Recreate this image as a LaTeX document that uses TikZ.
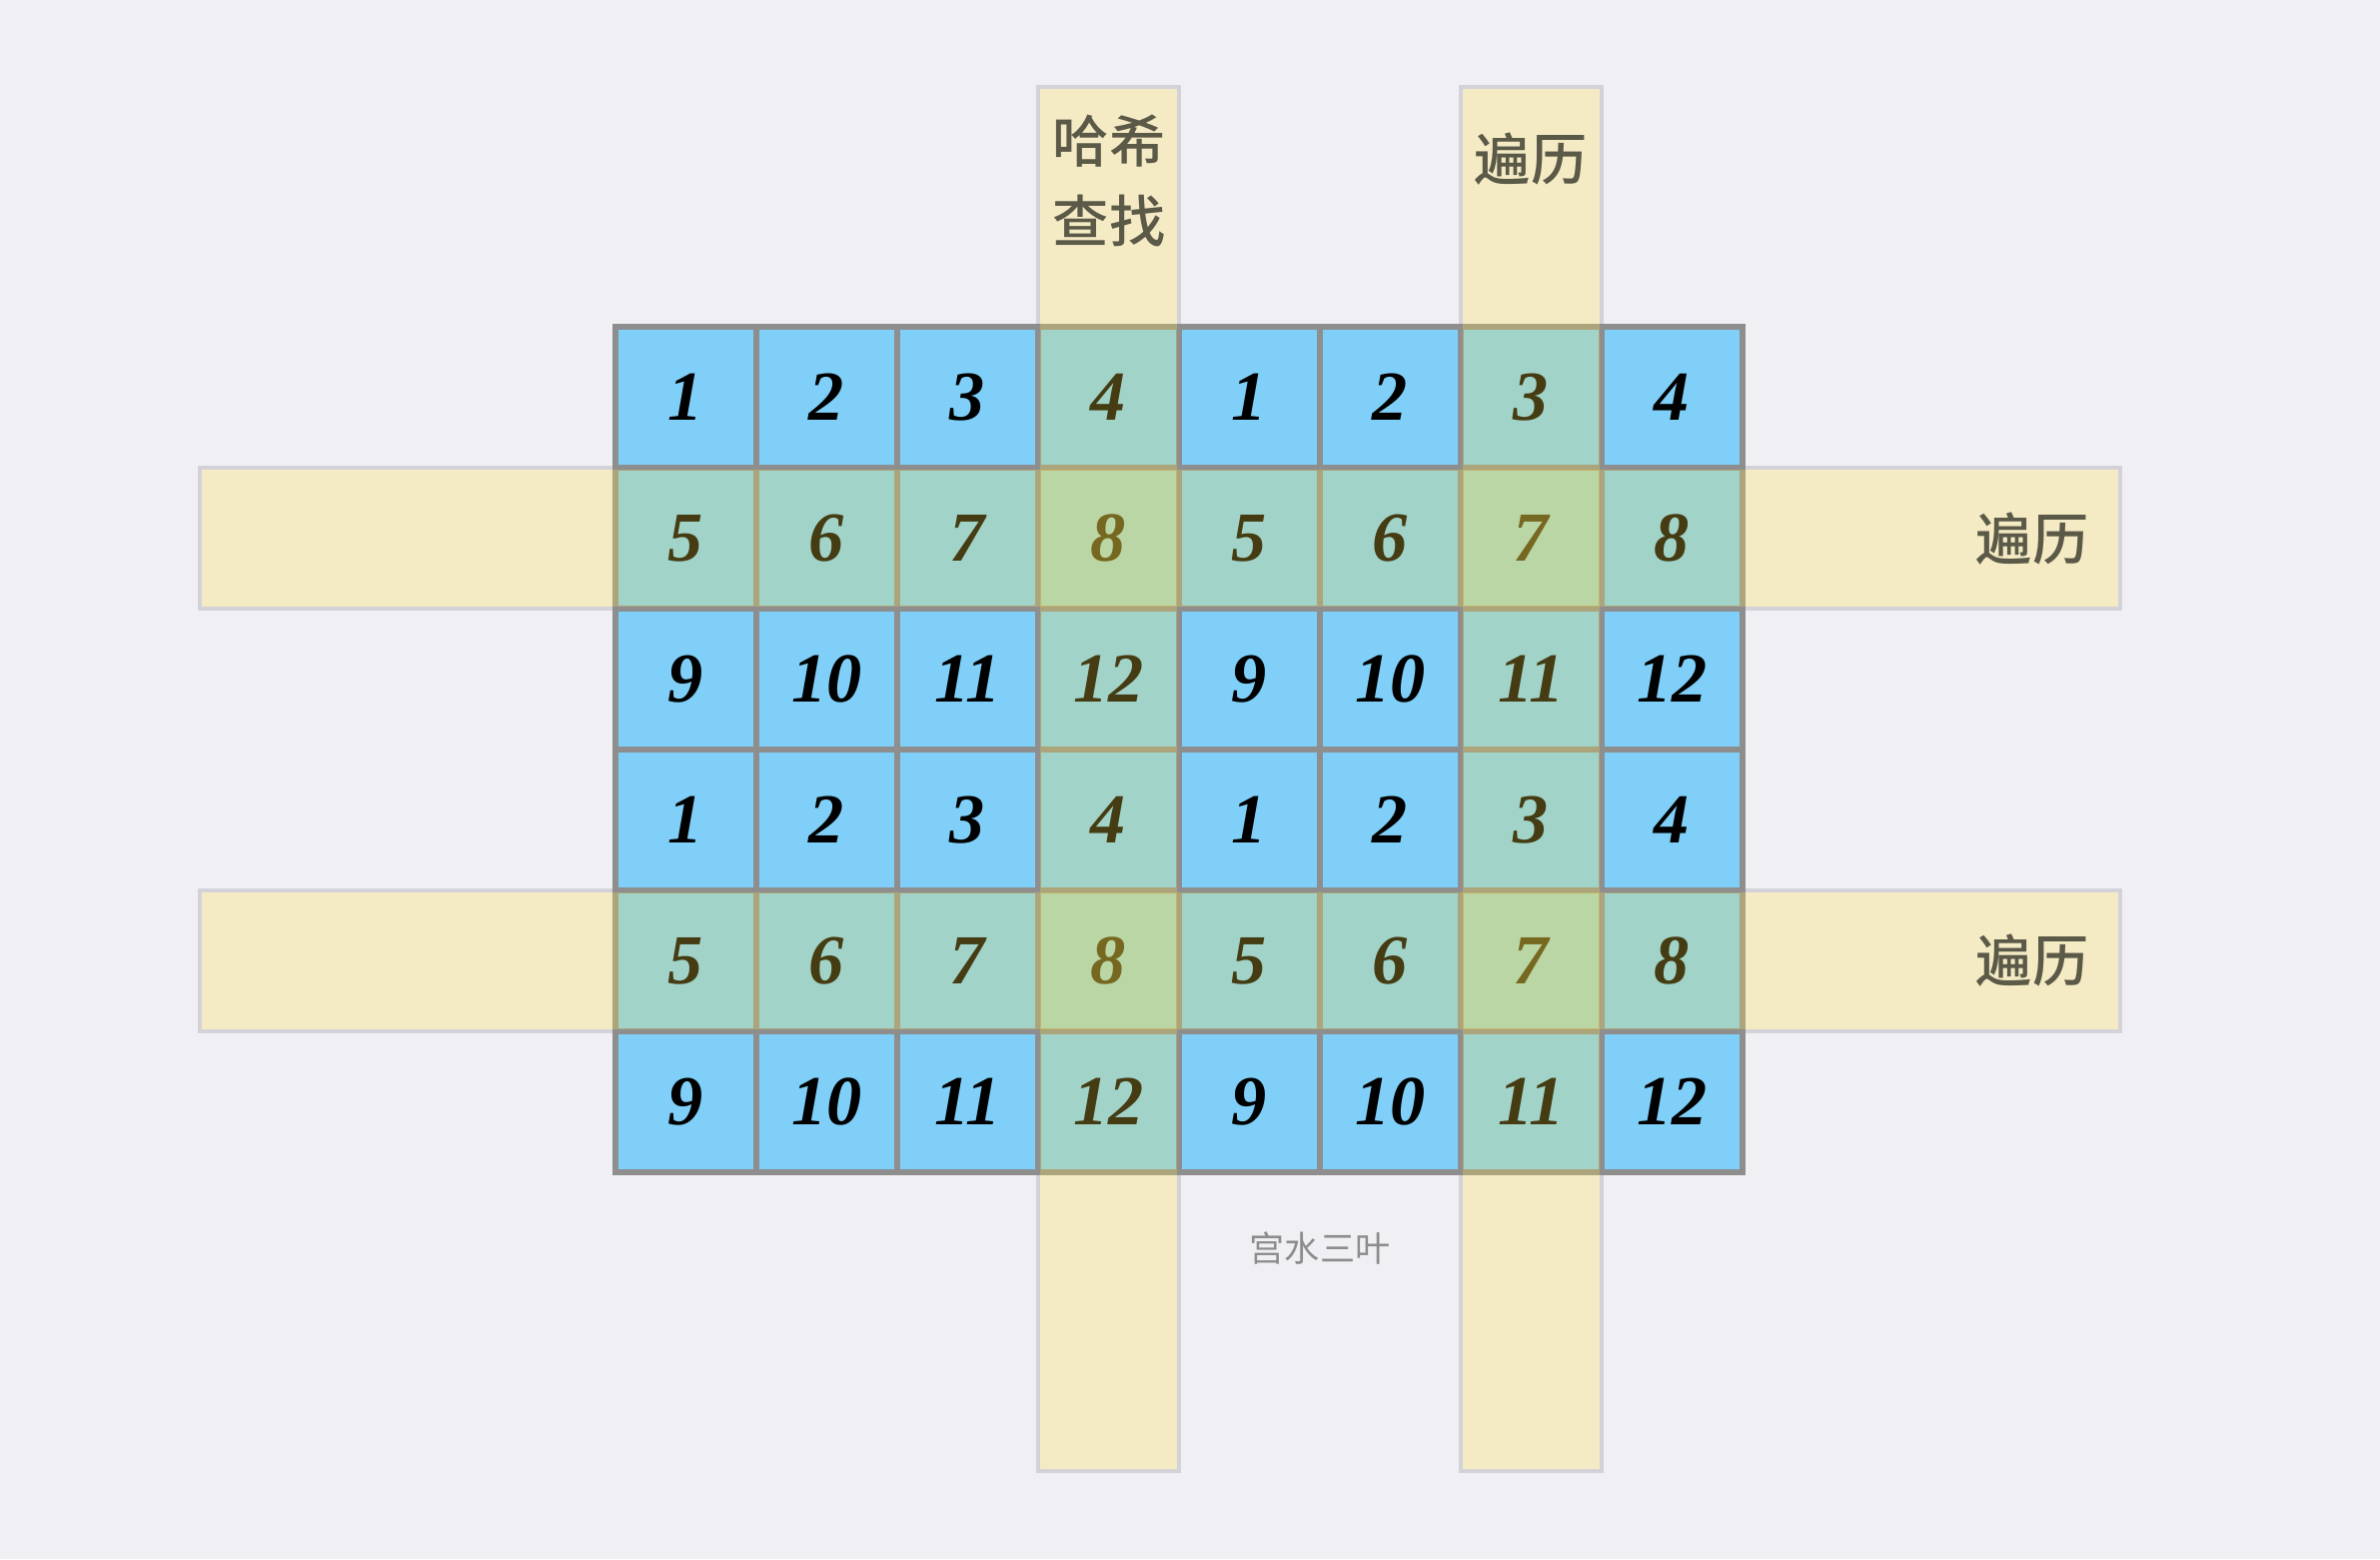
\documentclass[tikz,border=0pt]{standalone}
\usepackage{fontspec}
\setmainfont{Liberation Serif}
\newfontfamily\cjk{Noto Sans CJK SC}
\newfontfamily\cjkmid{Noto Sans CJK SC Medium}
\definecolor{bg}{RGB}{240,240,244}
\definecolor{cellblue}{RGB}{127,207,248}
\definecolor{gridgray}{RGB}{142,142,142}
\definecolor{bandgray}{RGB}{211,210,216}
\definecolor{bandyellow}{RGB}{255,225,72}
\definecolor{tagtext}{RGB}{91,89,71}
\definecolor{signgray}{RGB}{140,140,140}
\tikzset{
  cell/.style={draw=gridgray, line width=1.55pt, fill=cellblue, minimum size=1.41cm,
    inner sep=0pt, outer sep=0pt, font=\fontsize{20}{20}\selectfont\bfseries\itshape},
  bandline/.style={draw=bandgray, line width=1.35pt},
  bandfill/.style={fill=bandyellow, fill opacity=0.27},
  bandtext/.style={text=tagtext, font=\cjkmid\fontsize{16}{23}\selectfont, align=center}
}
\begin{document}
\begin{tikzpicture}[x=0.01cm, y=-0.01cm]
    % Background
    \fill[bg] (0,0) rectangle (2382,1560);

    % Band outlines
    \foreach \bx in {1039,1462}
      \draw[bandline] (\bx,87) rectangle ++(141,1385);
    \foreach \by in {468,891}
      \draw[bandline] (200,\by) rectangle ++(1922,141);

    % Grid of numbers
    \foreach \r in {1,...,6}
      \foreach \c in {1,...,8} {
        \pgfmathtruncatemacro\val{4*mod(\r-1,3)+mod(\c-1,4)+1}
        \node[cell] (c\r-\c) at ({616+141*(\c-0.5)},{327+141*(\r-0.5)}) {\val};
      }

    % Band fills on top
    \foreach \bx in {1039,1462}
      \fill[bandfill] ({\bx+2},89) rectangle ++(137,1381);
    \foreach \by in {468,891}
      \fill[bandfill] (202,{\by+2}) rectangle ++(1918,137);

    % Labels
    \node[bandtext] (hash) at (1110,181) {哈希\\查找};
    \node[bandtext] (walktop) at (1532,159) {遍历};
    \node[bandtext] (walkA) at (2034,539) {遍历};
    \node[bandtext] (walkB) at (2034,961) {遍历};
    \node[text=signgray, font=\cjk\fontsize{10}{10}\selectfont] (sign) at (1321,1249) {宫水三叶};
\end{tikzpicture}
\end{document}
